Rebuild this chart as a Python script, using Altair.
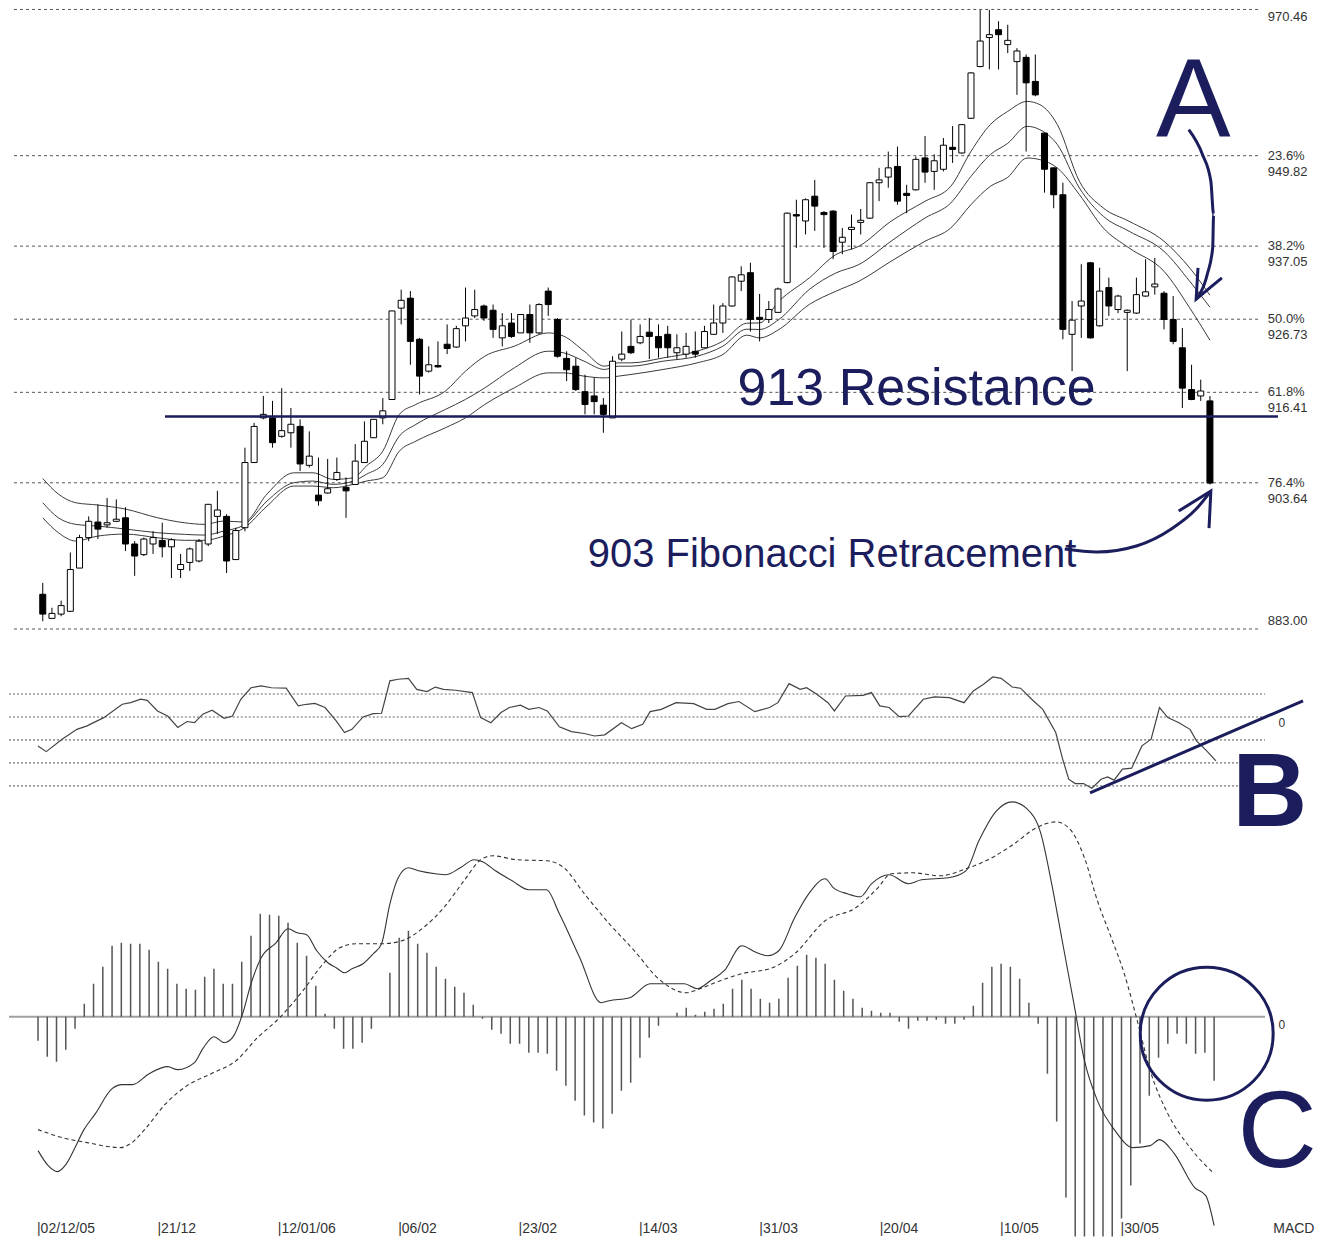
import altair as alt
import pandas as pd

# ---------------- data ----------------
bar_index = list(range(128))
opens = [887.9, 884.5, 885.1, 885.5, 891.6, 895.9, 898.1, 897.7, 898.2, 898.7,
         895.0, 893.5, 895.0, 895.5, 894.6, 891.4, 892.4, 892.6, 895.0, 898.9,
         898.9, 892.8, 897.3, 906.5, 912.8, 912.8, 910.2, 910.7, 911.6, 906.1,
         901.9, 902.2, 904.1, 903.0, 903.4, 906.5, 910.0, 912.8, 915.4, 928.3,
         929.7, 923.9, 919.4, 920.2, 923.2, 922.8, 925.8, 927.2, 928.6, 928.0,
         924.1, 926.2, 924.8, 927.4, 924.8, 930.7, 926.7, 921.2, 920.1, 916.5,
         915.9, 914.6, 912.8, 921.1, 922.9, 923.4, 924.9, 924.3, 924.6, 922.0,
         921.8, 922.2, 922.7, 924.6, 926.2, 928.6, 932.1, 933.3, 927.0, 926.7,
         927.7, 931.9, 941.5, 940.6, 944.1, 941.8, 942.0, 937.6, 939.4, 940.4,
         941.0, 946.0, 946.8, 948.3, 944.5, 945.0, 949.5, 947.6, 947.9, 951.0,
         950.2, 955.1, 962.4, 966.5, 967.6, 965.5, 963.1, 963.7, 960.3, 953.0,
         948.1, 944.3, 924.6, 928.6, 934.7, 925.8, 931.2, 928.1, 927.7, 927.6,
         930.0, 931.3, 930.4, 926.7, 922.7, 916.8, 915.9, 915.2]
highs = [889.5, 886.0, 887.0, 893.8, 896.3, 898.9, 900.6, 901.5, 901.3, 900.2,
         895.4, 895.9, 896.8, 898.0, 895.8, 893.6, 894.5, 895.7, 900.6, 902.5,
         899.2, 897.3, 908.6, 912.1, 915.9, 915.2, 917.0, 914.2, 912.6, 910.9,
         907.2, 907.0, 907.2, 904.4, 909.1, 912.3, 912.6, 915.6, 927.9, 930.9,
         930.7, 924.1, 922.9, 923.6, 926.0, 925.8, 931.2, 930.9, 928.8, 928.8,
         927.6, 927.6, 927.4, 928.8, 929.0, 931.2, 926.9, 922.2, 921.3, 918.9,
         918.5, 915.6, 921.5, 925.0, 926.7, 926.0, 926.9, 926.0, 925.8, 924.6,
         924.8, 925.0, 925.8, 928.8, 929.0, 932.8, 934.2, 934.7, 930.3, 929.3,
         931.2, 941.8, 943.6, 943.8, 946.4, 942.0, 942.1, 939.6, 941.5, 942.3,
         946.1, 948.1, 950.4, 951.1, 945.7, 949.7, 952.6, 950.0, 952.3, 954.0,
         954.3, 961.6, 970.4, 970.4, 968.8, 968.3, 965.0, 964.1, 964.1, 953.1,
         948.2, 946.0, 929.3, 934.5, 934.8, 934.0, 932.6, 930.2, 928.1, 932.6,
         935.2, 935.4, 930.7, 930.0, 925.5, 920.3, 918.2, 915.9]
lows = [884.1, 884.4, 884.8, 885.4, 891.6, 895.4, 895.7, 897.3, 898.1, 894.0,
        890.5, 893.3, 893.6, 893.1, 890.2, 890.2, 891.2, 892.4, 894.7, 896.4,
        890.9, 892.8, 896.8, 906.5, 912.6, 908.6, 910.0, 908.6, 905.3, 905.8,
        900.4, 902.1, 903.9, 898.7, 903.4, 906.5, 910.0, 911.9, 915.4, 926.0,
        920.3, 916.1, 919.2, 919.9, 921.8, 922.7, 923.6, 926.9, 926.5, 924.1,
        922.9, 924.1, 924.8, 923.4, 924.6, 927.2, 921.3, 918.0, 916.6, 913.3,
        913.3, 910.7, 912.8, 920.8, 921.8, 923.2, 921.1, 921.3, 921.3, 921.1,
        921.3, 921.3, 922.7, 924.6, 924.8, 928.5, 930.7, 925.0, 923.6, 926.2,
        927.6, 931.8, 936.8, 938.7, 939.2, 936.8, 935.2, 935.9, 936.6, 938.7,
        940.9, 943.4, 945.3, 942.9, 941.7, 944.9, 946.0, 945.0, 947.6, 948.8,
        950.1, 955.0, 962.3, 962.0, 962.0, 964.3, 958.4, 950.4, 958.2, 944.6,
        942.4, 923.9, 919.4, 924.1, 924.0, 925.7, 927.2, 927.6, 919.4, 927.5,
        929.9, 930.2, 925.3, 923.2, 914.2, 915.3, 915.2, 903.4]
closes = [885.1, 885.2, 886.3, 891.4, 895.9, 898.2, 897.1, 898.0, 898.5, 895.0,
          893.3, 895.7, 895.9, 894.6, 895.6, 892.1, 894.3, 895.4, 900.6, 899.8,
          892.6, 896.9, 906.5, 911.6, 913.3, 909.3, 911.0, 911.9, 906.3, 907.4,
          901.1, 902.8, 905.1, 902.5, 906.7, 909.5, 912.6, 913.8, 927.9, 929.4,
          923.6, 918.7, 920.3, 920.0, 922.6, 925.4, 926.9, 928.1, 926.9, 925.3,
          925.8, 924.3, 927.4, 924.8, 928.8, 928.8, 921.5, 919.6, 916.8, 914.7,
          915.1, 913.3, 920.8, 921.8, 922.0, 924.3, 924.3, 922.7, 922.7, 922.7,
          922.9, 921.8, 925.0, 926.2, 928.6, 932.7, 933.0, 926.7, 926.7, 928.1,
          931.0, 941.7, 941.3, 943.6, 942.7, 941.5, 936.3, 938.3, 939.7, 940.7,
          946.0, 946.4, 948.1, 943.4, 944.2, 949.3, 947.5, 949.1, 951.3, 950.7,
          954.2, 961.5, 966.0, 966.9, 966.9, 966.1, 964.6, 960.1, 958.4, 947.9,
          944.3, 925.3, 926.6, 929.3, 924.1, 930.7, 928.6, 930.0, 928.0, 930.2,
          930.6, 931.7, 926.7, 923.6, 917.0, 915.4, 916.6, 903.6]

# three moving-average bands (upper / middle / lower line at each sample)
ma_idx = [0, 1.7, 3.6, 6, 9, 12.5, 15.4, 17.6, 19.7, 21.9, 24.4, 27.3, 29.4, 31.6, 33.8,
          35.2, 37, 38.8, 40.6, 43.8, 46, 48.1, 51.3, 55, 56.7, 58.9, 61.1, 62.6, 64, 67.5,
          71.2, 74, 76.6, 78, 80.1, 83.4, 86.3, 88.8, 92.3, 96, 98.8, 101, 103.1, 105, 107.1,
          108.5, 110.4, 112.8, 115.4, 118.2, 122, 124.8, 127]
ma_top = [904.25, 902.05, 900.82, 900.50, 899.93, 898.70, 898.0, 897.77, 898.24, 898.10,
          902.05, 905.05, 905.05, 904.12, 904.35, 906.0, 908.11, 913.29, 914.70, 916.58,
          919.40, 921.51, 922.92, 924.80, 924.33, 922.22, 920.10, 920.57, 920.57, 921.27,
          922.22, 923.63, 926.17, 926.21, 929.27, 932.56, 935.86, 937.03, 940.56, 943.38,
          945.49, 950.43, 954.20, 956.07, 957.48, 957.02, 954.20, 946.20, 942.43, 940.56,
          937.74, 933.97, 930.12]
ma_mid = [900.82, 898.70, 897.77, 897.53, 897.11, 896.59, 896.36, 896.26, 896.83, 897.67,
          901.06, 903.64, 903.88, 903.42, 903.88, 904.83, 906.24, 910.23, 911.88, 913.99,
          915.41, 917.04, 919.86, 922.22, 921.98, 920.81, 919.64, 920.10, 920.10, 920.81,
          921.51, 922.92, 925.33, 925.28, 926.69, 930.92, 933.26, 934.45, 937.74, 941.02,
          943.14, 946.90, 949.97, 951.56, 953.96, 953.49, 951.38, 945.25, 941.26, 939.15,
          936.32, 932.09, 928.43]
ma_bot = [898.70, 896.59, 895.42, 896.12, 896.40, 895.88, 895.52, 895.52, 896.12, 897.25,
          900.35, 903.18, 903.18, 902.94, 903.42, 903.88, 904.35, 908.11, 909.52, 911.40,
          912.81, 914.70, 917.04, 919.16, 919.16, 918.69, 918.45, 918.69, 918.93, 919.64,
          920.57, 921.75, 924.48, 924.09, 925.28, 928.81, 930.68, 932.09, 934.91, 937.74,
          939.61, 942.91, 945.49, 946.76, 949.49, 949.26, 948.08, 944.32, 939.61, 936.79,
          933.50, 928.33, 923.77]

fib_levels = [970.46, 949.82, 937.05, 926.73, 916.41, 903.64, 883.00]
fib_pct = ["", "23.6%", "38.2%", "50.0%", "61.8%", "76.4%", ""]
resistance = 913.0

# oscillator panel
osc_idx = [0, 0.9, 2.6, 4.2, 5.3, 7.1, 9.1, 10, 11.1, 11.8,
           12.9, 14, 15.1, 16.1, 16.9, 17.8, 18.8, 20.1, 21, 21.9,
           23, 24.1, 25.2, 26.8, 28.1, 29, 29.9, 31, 32.2, 33.1,
           33.9, 35.1, 36.2, 37.1, 38, 38.9, 40, 40.9, 42, 42.9,
           43.8, 45.1, 46.9, 47.8, 48.9, 50, 50.9, 52.1, 53, 54.1,
           55, 56.3, 57.6, 59, 60.1, 61.2, 63, 64.1, 65.3, 66.1,
           67.3, 68.9, 70.8, 72.2, 73.1, 74.5, 75.7, 77.4, 79, 79.9,
           81.1, 82.3, 83, 84.1, 85.3, 86, 87.2, 89.1, 90, 90.9,
           91.9, 93, 94, 95.6, 96.8, 98.4, 100, 101, 102.1, 103.1,
           104, 105.2, 106.1, 107.3, 108.5, 109.9, 110.6, 111.3, 112, 112.9,
           113.8, 114.8, 115.5, 116.2, 117.1, 118.1, 119.2, 120.2, 121.1, 122,
           123.2, 124.4, 125.1, 126.2, 127.2]
osc_val = [-1.26, -1.51, -0.97, -0.54, -0.39, -0.03, 0.55, 0.62, 0.77, 0.72,
           0.26, 0.04, -0.46, -0.2, -0.25, 0.12, 0.29, -0.06, 0.04, 0.77,
           1.27, 1.35, 1.27, 1.25, 0.48, 0.55, 0.59, 0.41, -0.17, -0.68,
           -0.54, 0.0, 0.14, 0.16, 1.57, 1.64, 1.68, 1.2, 1.1, 1.3,
           1.2, 1.16, 1.06, -0.03, -0.25, 0.19, 0.41, 0.51, 0.33, 0.41,
           0.26, -0.43, -0.64, -0.72, -0.83, -0.78, -0.25, -0.51, -0.32, 0.23,
           0.33, 0.62, 0.58, 0.33, 0.33, 0.58, 0.67, 0.23, 0.41, 0.62,
           1.45, 1.2, 1.27, 0.99, 0.62, 0.26, 0.91, 0.94, 1.06, 0.48,
           0.41, 0.01, 0.04, 0.77, 0.87, 0.84, 0.62, 1.13, 1.42, 1.74,
           1.68, 1.3, 1.25, 0.77, 0.33, -0.68, -1.77, -2.71, -2.9, -2.9,
           -3.1, -2.71, -2.61, -2.75, -2.27, -2.23, -1.26, -0.97, 0.41, -0.03,
           -0.25, -0.54, -1.04, -1.48, -1.91]
osc_levels = [1, 0, -1, -2, -3]
trend_b_idx = [113.6, 136.6]
trend_b_val = [-3.30, 0.70]

# MACD panel
macd_idx = [0, 1.1, 2.1, 3.0, 4.0, 4.9, 6.2, 8.0, 9.1, 10.2,
            12.0, 14.0, 15.1, 16.9, 17.8, 19.0, 20.1, 21.0, 22.1, 23.0,
            24.1, 25.7, 27.0, 28.0, 29.0, 30.1, 31.3, 32.2, 33.1, 33.9,
            35.1, 36.2, 37.1, 38.0, 38.9, 40.0, 41.1, 42.9, 44.0, 45.6,
            47.1, 48.0, 49.4, 51.2, 53.0, 54.9, 56.3, 58.5, 60.8, 61.7,
            63.9, 66.1, 67.9, 69.8, 71.2, 72.6, 74.1, 76.0, 77.4, 78.8,
            80.0, 81.7, 83.3, 85.0, 85.9, 87.4, 88.8, 90.0, 91.9, 94.0,
            95.4, 98.3, 100.2, 101.6, 103.5, 105.2, 106.8, 108.3, 109.4, 110.6,
            111.8, 113.0, 114.4, 116.3, 118.2, 120.1, 121.1, 122.7, 124.9, 126.1,
            127.0]
macd_val = [-13.4, -14.9, -15.5, -14.8, -13.1, -11.4, -9.7, -7.2, -6.8, -6.8,
            -5.7, -5.0, -5.3, -4.6, -3.2, -2.0, -2.6, -2.1, 0.3, 3.3,
            5.9, 7.4, 8.8, 8.4, 8.2, 6.6, 5.4, 4.9, 4.4, 4.8,
            5.3, 6.3, 7.3, 11.3, 13.9, 14.9, 14.6, 14.3, 14.2, 14.9,
            15.7, 15.5, 14.6, 13.6, 12.7, 12.7, 10.3, 5.9, 1.4, 1.6,
            1.9, 3.3, 3.3, 3.3, 2.8, 3.6, 4.6, 7.1, 6.5, 6.1,
            6.6, 9.9, 12.4, 13.8, 12.9, 12.3, 12.0, 13.3, 14.2, 13.3,
            13.7, 13.9, 14.6, 17.6, 20.6, 21.5, 20.8, 18.3, 13.6, 7.6,
            1.6, -4.4, -8.4, -11.4, -13.1, -12.9, -12.3, -13.7, -17.1, -17.9,
            -20.9]
sig_idx = [0, 2.6, 5.3, 8.9, 10.0, 11.6, 13.8, 16.1, 18.7, 21.4,
           23.7, 26.1, 28.6, 30.8, 32.6, 34.4, 37.1, 39.3, 41.6, 43.8,
           46.0, 47.8, 49.1, 51.8, 55.0, 56.8, 59.0, 61.7, 64.4, 67.0,
           70.0, 71.2, 73.1, 76.0, 79.3, 81.7, 85.0, 88.3, 90.7, 92.1,
           94.5, 97.3, 100.2, 103.0, 105.4, 107.8, 109.9, 111.3, 113.0, 114.4,
           115.9, 117.3, 118.7, 120.1, 122.0, 124.4, 127.0]
sig_val = [-11.3, -12.1, -12.6, -13.1, -12.7, -11.2, -8.7, -6.9, -5.7, -4.4,
           -2.1, -0.1, 2.6, 5.3, 6.9, 7.3, 7.3, 7.6, 8.9, 10.9,
           13.6, 15.7, 16.1, 15.7, 15.6, 14.9, 12.3, 9.3, 6.6, 3.8,
           2.4, 2.7, 3.4, 4.3, 4.9, 6.3, 9.6, 10.9, 12.9, 14.3,
           14.4, 14.1, 14.8, 15.9, 17.3, 18.9, 19.5, 18.9, 15.9, 11.6,
           7.9, 4.3, -0.4, -5.4, -9.7, -13.1, -15.7]
hist_val = [-2.4, -4.0, -4.5, -3.3, -1.2, 1.3, 3.3, 5.0, 7.1, 7.4,
            7.3, 7.3, 6.7, 5.5, 4.8, 3.3, 2.8, 2.7, 4.0, 4.8,
            3.3, 3.3, 5.5, 8.1, 10.3, 10.2, 10.1, 9.4, 7.4, 6.1,
            3.1, 0.3, -1.2, -3.2, -3.2, -2.6, -1.2, 0.0, 4.4, 7.9,
            8.6, 7.3, 6.4, 5.0, 3.8, 3.0, 2.4, 1.2, -0.2, -1.3,
            -1.7, -2.7, -2.7, -3.6, -3.6, -3.7, -5.4, -6.9, -8.4, -9.9,
            -10.6, -11.2, -9.7, -7.4, -6.6, -4.1, -2.1, -0.9, 0.0, 0.4,
            0.9, 0.2, 0.5, 0.8, 1.3, 2.8, 3.7, 2.8, 1.8, 1.4,
            1.8, 3.9, 5.1, 6.2, 5.9, 5.3, 3.7, 2.6, 1.8, 0.9,
            0.6, 0.4, 0.4, -0.5, -1.2, -0.4, -0.4, -0.3, -0.7, -0.7,
            -0.3, 1.1, 3.4, 5.0, 5.3, 5.0, 3.8, 1.4, -0.7, -5.7,
            -10.5, -18.1, -24.0, -24.0, -24.0, -24.0, -22.4, -20.2, -16.9, -12.7,
            -7.9, -4.1, -2.7, -1.7, -2.7, -3.7, -3.6, -6.4]

date_labels = ["|02/12/05", "|21/12", "|12/01/06", "|06/02", "|23/02",
               "|14/03", "|31/03", "|20/04", "|10/05", "|30/05"]
date_pos = [0, 13, 26, 39, 52, 65, 78, 91, 104, 117]

# annotation geometry (in data units of each panel)
arrow_a_idx = [124.7, 126.2, 127.1, 127.4, 127.3, 126.7, 125.5]
arrow_a_val = [953.49, 949.96, 946.20, 941.50, 936.79, 933.04, 929.55]
arrow_a_head_idx = [125.7, 125.5, 128.3]
arrow_a_head_val = [933.97, 929.55, 932.56]
arrow_f_idx = [111.2, 114.7, 119.0, 122.8, 125.5, 127.1]
arrow_f_val = [894.29, 893.87, 894.71, 897.11, 899.93, 902.47]
arrow_f_head_idx = [123.6, 127.1, 126.9]
arrow_f_head_val = [899.65, 902.47, 897.25]

# ---------------- chart ----------------
NAVY = "#1b1d5c"
SANS = "Liberation Sans, Arial, sans-serif"
W = 1314
X_DOMAIN = [-3.13, 138.65]
LINE_END = 132.5
LABEL_X = 133.3

xs = alt.Scale(domain=X_DOMAIN, nice=False, zero=False)


def X(field):
    return alt.X(field, type="quantitative", scale=xs, axis=None)


def Yf(field, scale):
    return alt.Y(field, type="quantitative", scale=scale, axis=None)


def line_df(ix, vals):
    return pd.DataFrame({"i": ix, "v": vals, "o": list(range(len(ix)))})


# ---- price panel ----
ps = alt.Scale(domain=[883.0, 970.46], nice=False, zero=False)
cdf = pd.DataFrame({"i": bar_index, "open": opens, "high": highs, "low": lows, "close": closes})
cdf["dir"] = ["up" if c >= o else "down" for o, c in zip(opens, closes)]

fib_df = pd.DataFrame({"level": fib_levels, "x0": X_DOMAIN[0], "x1": LINE_END})
fib_lines = alt.Chart(fib_df).mark_rule(color="#555555", strokeWidth=1, strokeDash=[3, 3]).encode(
    x=X("x0"), x2="x1:Q", y=Yf("level", ps))

mid_lab = pd.DataFrame({"x": LABEL_X, "level": fib_levels[1:-1],
                        "t": [f"{p}\n{v:.2f}" for p, v in zip(fib_pct[1:-1], fib_levels[1:-1])]})
fib_text = alt.Chart(mid_lab).mark_text(align="left", baseline="middle", lineBreak="\n", fontSize=13,
                                        lineHeight=16, font=SANS, color="#333333").encode(
    x=X("x"), y=Yf("level", ps), text="t:N")
top_lab = pd.DataFrame({"x": [LABEL_X], "level": [fib_levels[0]], "t": [f"{fib_levels[0]:.2f}"]})
top_text = alt.Chart(top_lab).mark_text(align="left", baseline="middle", dy=8, fontSize=13, font=SANS,
                                        color="#333333").encode(x=X("x"), y=Yf("level", ps), text="t:N")
bot_lab = pd.DataFrame({"x": [LABEL_X], "level": [fib_levels[-1]], "t": [f"{fib_levels[-1]:.2f}"]})
bot_text = alt.Chart(bot_lab).mark_text(align="left", baseline="middle", dy=-8, fontSize=13, font=SANS,
                                        color="#333333").encode(x=X("x"), y=Yf("level", ps), text="t:N")

ma_df = pd.concat([pd.DataFrame({"i": ma_idx, "v": vals, "s": name})
                   for name, vals in [("top", ma_top), ("mid", ma_mid), ("bot", ma_bot)]])
ma_lines = alt.Chart(ma_df).mark_line(color="#3a3a3a", strokeWidth=1, interpolate="monotone").encode(
    x=X("i"), y=Yf("v", ps), detail="s:N")

wicks = alt.Chart(cdf).mark_rule(color="black", strokeWidth=1).encode(
    x=X("i"), y=Yf("low", ps), y2="high:Q")
bodies = alt.Chart(cdf).mark_bar(size=6, stroke="black", strokeWidth=1, orient="vertical").encode(
    x=X("i"), y=Yf("open", ps), y2="close:Q",
    fill=alt.Fill("dir:N", scale=alt.Scale(domain=["up", "down"], range=["white", "black"]), legend=None))

res_df = pd.DataFrame({"x0": [13.3], "x1": [134.4], "y": [resistance]})
res_line = alt.Chart(res_df).mark_rule(color=NAVY, strokeWidth=2.5).encode(
    x=X("x0"), x2="x1:Q", y=Yf("y", ps))

res_text = alt.Chart(pd.DataFrame({"x": [75.6], "y": [914.6], "t": ["913 Resistance"]})).mark_text(
    align="left", baseline="alphabetic", fontSize=52, font=SANS, color=NAVY).encode(
    x=X("x"), y=Yf("y", ps), text="t:N")
fib_ann = alt.Chart(pd.DataFrame({"x": [59.3], "y": [891.75], "t": ["903 Fibonacci Retracement"]})).mark_text(
    align="left", baseline="alphabetic", fontSize=40, font=SANS, color=NAVY).encode(
    x=X("x"), y=Yf("y", ps), text="t:N")
a_text = alt.Chart(pd.DataFrame({"x": [125.2], "y": [952.55], "t": ["A"]})).mark_text(
    align="center", baseline="alphabetic", fontSize=112, font=SANS, color=NAVY).encode(
    x=X("x"), y=Yf("y", ps), text="t:N")


def arrow(ix, vals, scale):
    return alt.Chart(line_df(ix, vals)).mark_line(color=NAVY, strokeWidth=3, interpolate="monotone").encode(
        x=X("i"), y=Yf("v", scale), order="o:Q")


def arrow_head(ix, vals, scale):
    return alt.Chart(line_df(ix, vals)).mark_line(color=NAVY, strokeWidth=3).encode(
        x=X("i"), y=Yf("v", scale), order="o:Q")


price = alt.layer(
    fib_lines, fib_text, top_text, bot_text, ma_lines, wicks, bodies, res_line,
    res_text, fib_ann, a_text,
    arrow(arrow_a_idx, arrow_a_val, ps), arrow_head(arrow_a_head_idx, arrow_a_head_val, ps),
    arrow(arrow_f_idx, arrow_f_val, ps), arrow_head(arrow_f_head_idx, arrow_f_head_val, ps),
).properties(width=W, height=620)

# ---- oscillator panel ----
os_ = alt.Scale(domain=[-3.435, 3.826], nice=False, zero=False)
olev = pd.DataFrame({"level": osc_levels, "x0": X_DOMAIN[0], "x1": LINE_END})
osc_grid = alt.Chart(olev).mark_rule(color="#9a9a9a", strokeWidth=1.6, strokeDash=[2, 2]).encode(
    x=X("x0"), x2="x1:Q", y=Yf("level", os_))
osc_line = alt.Chart(line_df(osc_idx, osc_val)).mark_line(color="#444444", strokeWidth=1.2).encode(
    x=X("i"), y=Yf("v", os_), order="o:Q")
trend_b = alt.Chart(line_df(trend_b_idx, trend_b_val)).mark_line(color=NAVY, strokeWidth=3).encode(
    x=X("i"), y=Yf("v", os_), order="o:Q")
osc_zero = alt.Chart(pd.DataFrame({"x": [134.3], "y": [0], "t": ["0"]})).mark_text(
    align="center", baseline="middle", dy=6, fontSize=12, font=SANS, color="#333333").encode(
    x=X("x"), y=Yf("y", os_), text="t:N")
b_text = alt.Chart(pd.DataFrame({"x": [133.0], "y": [-4.74], "t": ["B"]})).mark_text(
    align="center", baseline="alphabetic", fontSize=104, fontWeight="bold", font=SANS, color=NAVY).encode(
    x=X("x"), y=Yf("y", os_), text="t:N")
osc = alt.layer(osc_grid, osc_line, trend_b, osc_zero, b_text).properties(width=W, height=167)

# ---- MACD panel ----
ms = alt.Scale(domain=[-22.0, 22.1], nice=False, zero=False)
zero_df = pd.DataFrame({"x0": [X_DOMAIN[0]], "x1": [LINE_END], "y": [0]})
zero_line = alt.Chart(zero_df).mark_rule(color="#a0a0a0", strokeWidth=2).encode(
    x=X("x0"), x2="x1:Q", y=Yf("y", ms))
hdf = pd.DataFrame({"i": bar_index, "h": hist_val, "z": 0.0})
hist = alt.Chart(hdf).mark_rule(color="#555555", strokeWidth=1.5, clip=True).encode(
    x=X("i"), y=Yf("z", ms), y2="h:Q")
macd_line = alt.Chart(line_df(macd_idx, macd_val)).mark_line(color="#333333", strokeWidth=1.1,
                                                              interpolate="monotone").encode(
    x=X("i"), y=Yf("v", ms), order="o:Q")
sig_line = alt.Chart(line_df(sig_idx, sig_val)).mark_line(color="#333333", strokeWidth=1.1,
                                                           strokeDash=[4, 3], interpolate="monotone").encode(
    x=X("i"), y=Yf("v", ms), order="o:Q")
circle = alt.Chart(pd.DataFrame({"x": [126.2], "y": [-1.7]})).mark_point(
    shape="circle", size=17700, filled=False, stroke=NAVY, strokeWidth=3, opacity=1).encode(
    x=X("x"), y=Yf("y", ms))
c_text = alt.Chart(pd.DataFrame({"x": [133.8], "y": [-15.0], "t": ["C"]})).mark_text(
    align="center", baseline="alphabetic", fontSize=110, font=SANS, color=NAVY).encode(
    x=X("x"), y=Yf("y", ms), text="t:N")
macd_zero = alt.Chart(pd.DataFrame({"x": [134.3], "y": [0], "t": ["0"]})).mark_text(
    align="center", baseline="middle", dy=8, fontSize=12, font=SANS, color="#333333").encode(
    x=X("x"), y=Yf("y", ms), text="t:N")
ddf = pd.DataFrame({"x": date_pos + [133.5], "t": date_labels + ["MACD"]})
dates = alt.Chart(ddf).mark_text(align="left", baseline="bottom", fontSize=14, font=SANS,
                                 color="#333333", dx=-1).encode(
    x=X("x"), y=alt.value(440), text="t:N")
macd = alt.layer(zero_line, hist, macd_line, sig_line, circle, c_text, macd_zero, dates).properties(
    width=W, height=441)

chart = alt.vconcat(price, osc, macd, spacing=0, bounds="flush").resolve_scale(
    x="independent", y="independent").properties(padding=0, background="white").configure_view(
    strokeWidth=0, stroke="transparent")

chart.save("out.html", embed_options={"renderer": "svg", "actions": False})
